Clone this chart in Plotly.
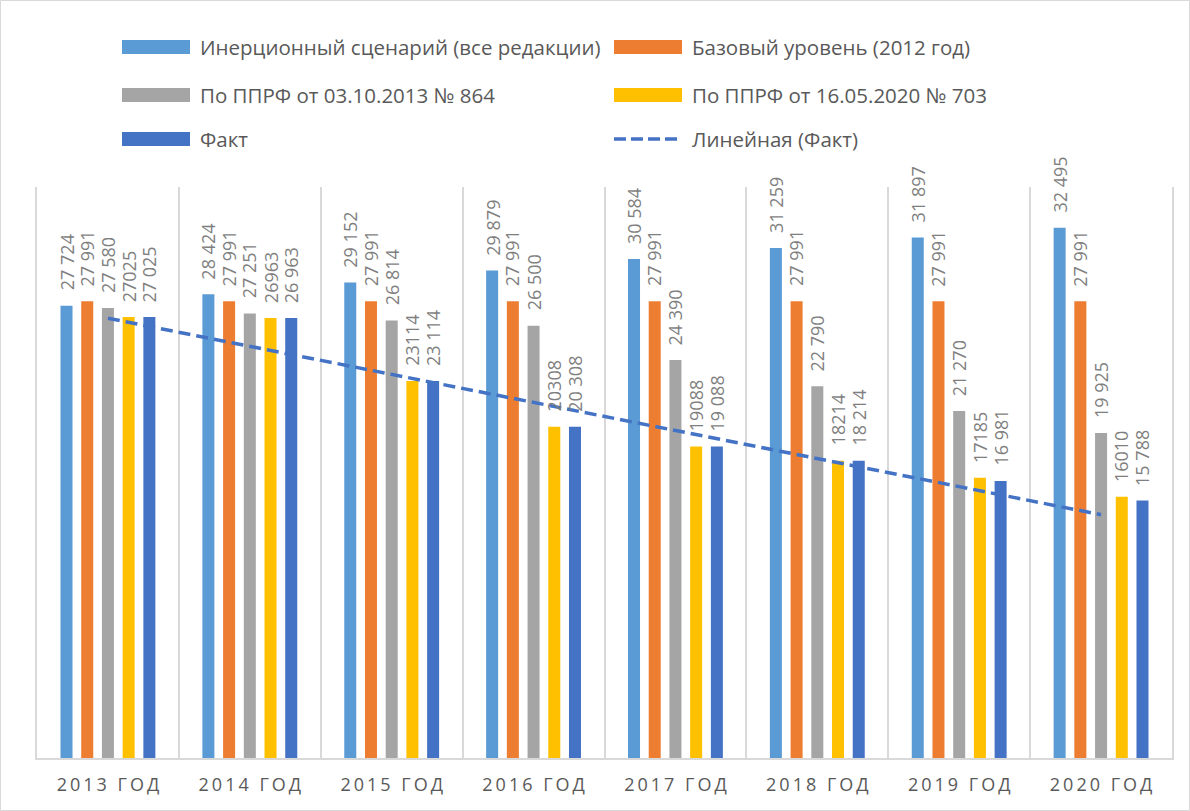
import numpy as np
import plotly.graph_objects as go

categories = ["2013 ГОД", "2014 ГОД", "2015 ГОД", "2016 ГОД",
              "2017 ГОД", "2018 ГОД", "2019 ГОД", "2020 ГОД"]

inert = [27724, 28424, 29152, 29879, 30584, 31259, 31897, 32495]
inert_lbl = ["27 724", "28 424", "29 152", "29 879", "30 584", "31 259", "31 897", "32 495"]

base = [27991, 27991, 27991, 27991, 27991, 27991, 27991, 27991]
base_lbl = ["27 991"] * 8

ppr864 = [27580, 27251, 26814, 26500, 24390, 22790, 21270, 19925]
ppr864_lbl = ["27 580", "27 251", "26 814", "26 500", "24 390", "22 790", "21 270", "19 925"]

ppr703 = [27025, 26963, 23114, 20308, 19088, 18214, 17185, 16010]
ppr703_lbl = ["27025", "26963", "23114", "20308", "19088", "18214", "17185", "16010"]

fact = [27025, 26963, 23114, 20308, 19088, 18214, 16981, 15788]
fact_lbl = ["27 025", "26 963", "23 114", "20 308", "19 088", "18 214", "16 981", "15 788"]

names = ["Инерционный сценарий (все редакции)", "Базовый уровень (2012 год)",
         "По ППРФ от 03.10.2013 № 864", "По ППРФ от 16.05.2020 № 703",
         "Факт", "Линейная (Факт)"]
colors = ["#5B9BD5", "#ED7D31", "#A5A5A5", "#FFC000", "#4472C4"]

W, H = 1190, 811
L, R, T, B = 37, 18, 187, 53
PW, PH = W - L - R, H - T - B
BARGAP, BARGROUPGAP = 0.27, 0.42

LABEL_FONT = dict(family="Open Sans", size=18, color="#7F7F7F")

fig = go.Figure()
series = [(inert, inert_lbl), (base, base_lbl), (ppr864, ppr864_lbl),
          (ppr703, ppr703_lbl), (fact, fact_lbl)]
n_series = len(series)
slot_px = (PW / len(categories)) * (1 - BARGAP) / n_series

annotations = []
for i, (vals, lbls) in enumerate(series):
    fig.add_trace(go.Bar(
        x=categories, y=vals, name=names[i], marker_color=colors[i],
        marker_line_width=0, showlegend=False,
    ))
    for cat, v, t in zip(categories, vals, lbls):
        annotations.append(dict(
            x=cat, y=v, xref="x", yref="y", text=t, textangle=-90,
            showarrow=False, xanchor="center", yanchor="bottom",
            xshift=(i - (n_series - 1) / 2) * slot_px, yshift=13,
            font=LABEL_FONT,
        ))

# linear trend of "Факт"
xi = np.arange(1, len(fact) + 1)
k, b0 = np.polyfit(xi, fact, 1)
trend = k * xi + b0
fig.add_trace(go.Scatter(
    x=categories, y=trend, mode="lines", name=names[5],
    line=dict(color="#4472C4", width=3.5, dash="12px,6px"),
    showlegend=False, cliponaxis=False,
))

def px_x(px):
    return (px - L) / PW

def px_y(py):
    return (H - B - py) / PH

shapes = []
legend_rows = [47, 95, 139]
legend_cols = [(122, 190, 198), (614, 682, 690)]
for idx in range(6):
    r, c = divmod(idx, 2)
    yc = legend_rows[r]
    sx0, sx1, tx = legend_cols[c]
    if idx < 5:
        shapes.append(dict(type="rect", xref="paper", yref="paper",
                           x0=px_x(sx0), x1=px_x(sx1),
                           y0=px_y(yc + 7), y1=px_y(yc - 7),
                           fillcolor=colors[idx], line=dict(width=0)))
    else:
        shapes.append(dict(type="line", xref="paper", yref="paper",
                           x0=px_x(sx0), x1=px_x(sx1),
                           y0=px_y(yc), y1=px_y(yc),
                           line=dict(color="#4472C4", width=3.5, dash="12px,5px")))
    annotations.append(dict(xref="paper", yref="paper", x=px_x(tx), y=px_y(yc),
                            xanchor="left", yanchor="middle", showarrow=False,
                            text=names[idx],
                            font=dict(family="Open Sans", size=20.5, color="#595959")))

# outer chart border
shapes.append(dict(type="rect", xref="paper", yref="paper",
                   x0=px_x(0.5), x1=px_x(W - 0.5), y0=px_y(H - 0.5), y1=px_y(0.5),
                   line=dict(color="#D9D9D9", width=1), layer="below"))

fig.update_layout(
    width=W, height=H,
    margin=dict(l=L, r=R, t=T, b=B, pad=0),
    paper_bgcolor="white", plot_bgcolor="white",
    barmode="group", bargap=BARGAP, bargroupgap=BARGROUPGAP,
    shapes=shapes, annotations=annotations,
    showlegend=False,
)
fig.update_xaxes(
    type="category", tickson="boundaries", showgrid=True,
    gridcolor="#D9D9D9", gridwidth=1.5,
    showline=True, linecolor="#D9D9D9", linewidth=1.5,
    ticks="", ticklen=0, ticklabelstandoff=10,
    tickfont=dict(family="Open Sans", size=18, color="#595959"),
)
fig.update_yaxes(
    range=[0, 35000], showgrid=False, zeroline=False,
    showticklabels=False, ticks="",
    showline=True, mirror=True, linecolor="#D9D9D9", linewidth=1.5,
)

post = """
document.body.style.margin = '0';
document.querySelectorAll('.xtick text').forEach(function (t) {
  t.setAttribute('letter-spacing', '3px');
  t.setAttribute('dx', '1.5');
});
"""
fig.write_html("out.html", post_script=post, config={"displayModeBar": False})
